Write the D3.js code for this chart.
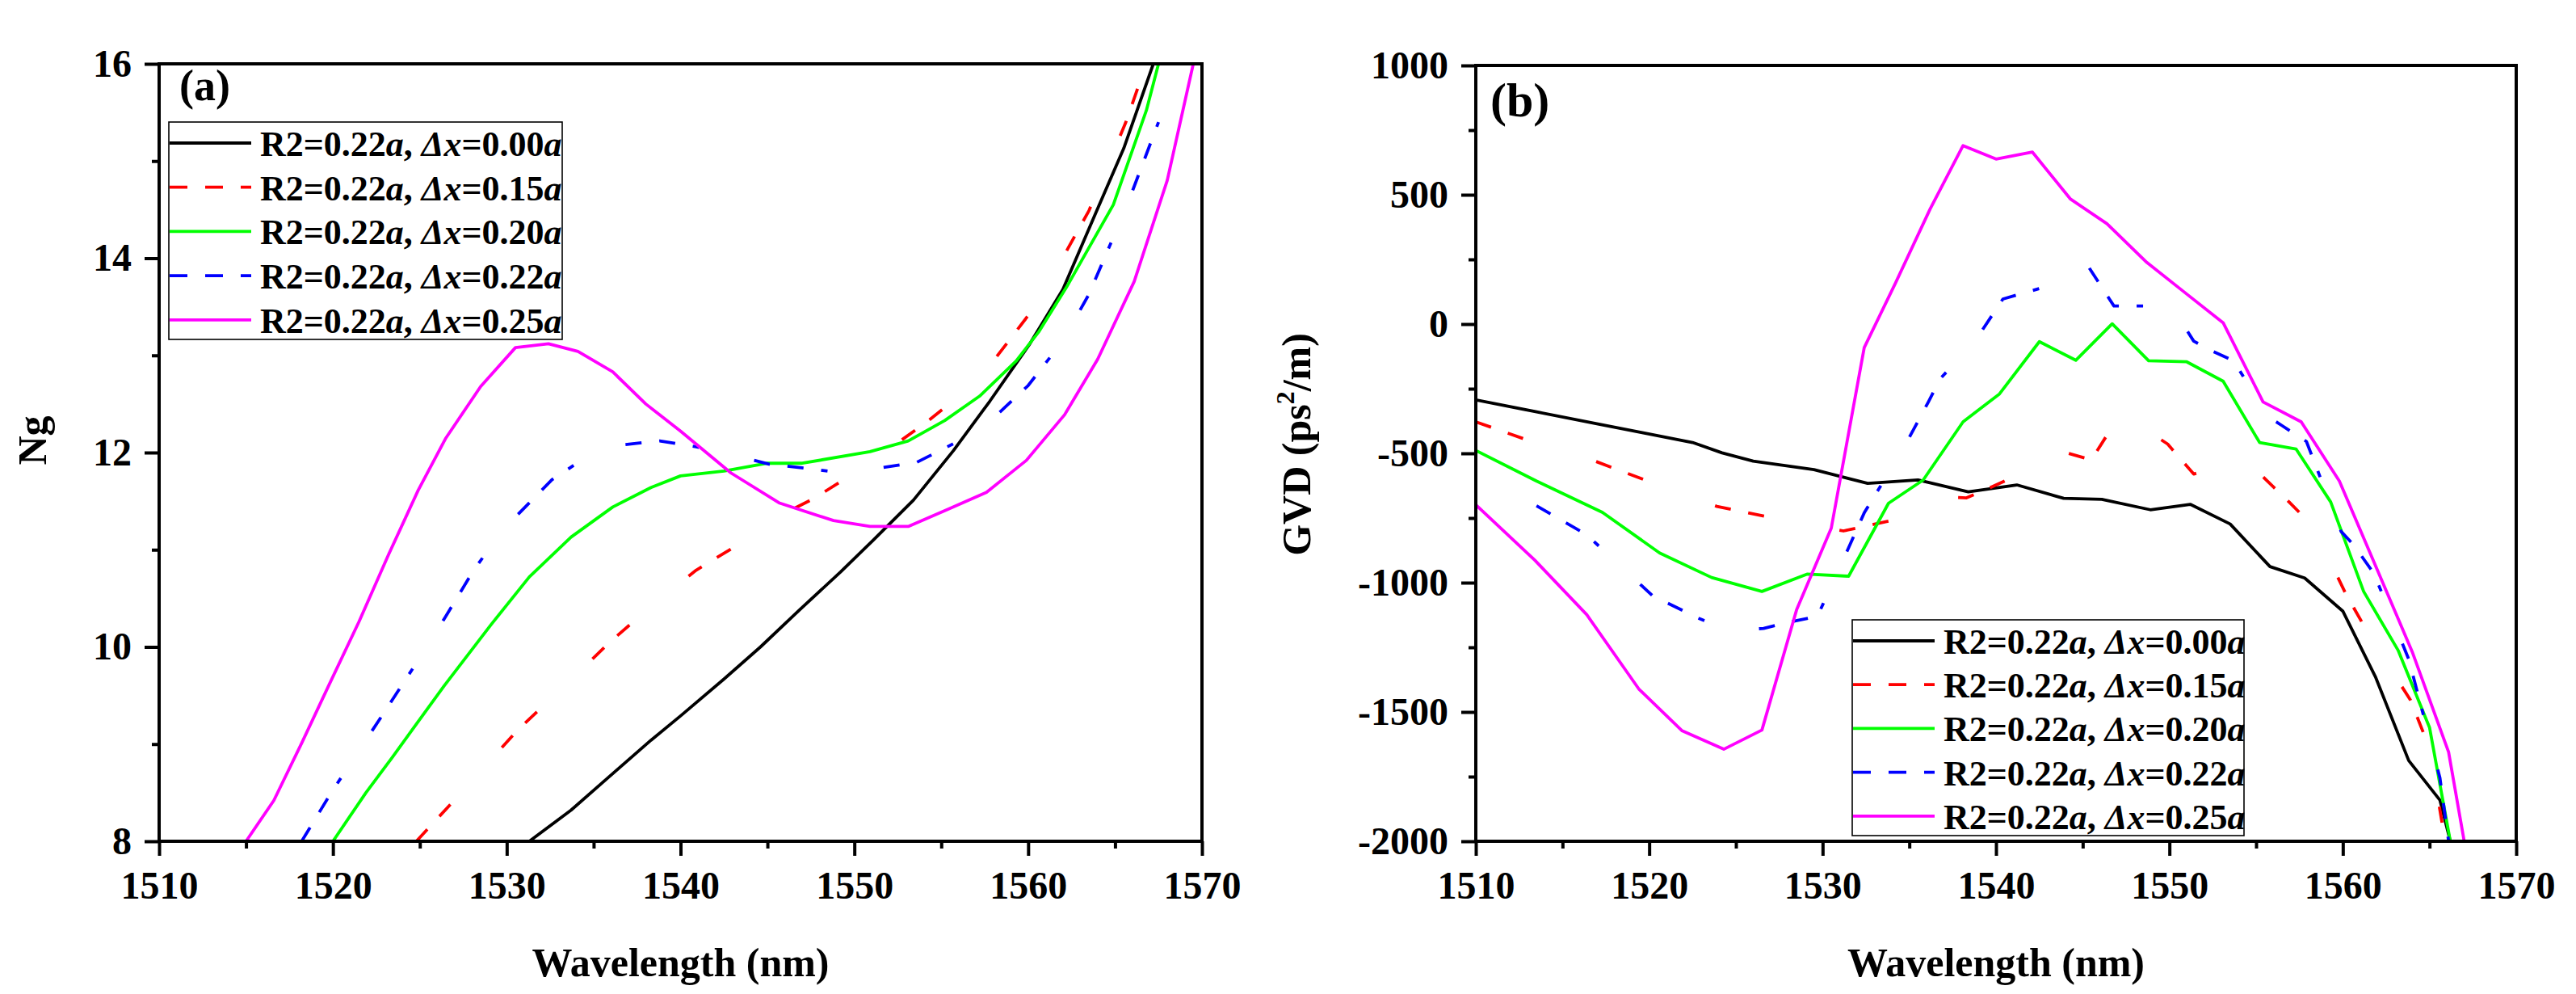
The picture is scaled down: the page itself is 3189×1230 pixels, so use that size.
<!DOCTYPE html>
<html>
<head>
<meta charset="utf-8">
<script src="https://cdn.jsdelivr.net/npm/d3@7"></script>
<style>
  html, body { margin: 0; padding: 0; background: #fff; }
  svg text { font-family: "Liberation Serif", "Times New Roman", serif; font-weight: bold; white-space: pre; }
</style>
</head>
<body>
<div id="chart"></div>
<script>
// ---- data ----
const legendLabels = ["0.00", "0.15", "0.20", "0.22", "0.25"];
const seriesColors = ["#000000", "#ff0000", "#00ff00", "#0000ff", "#ff00ff"];

const xTicks = [1510, 1520, 1530, 1540, 1550, 1560, 1570];
const ngTicks = [8, 10, 12, 14, 16];
const gvdTicks = [-2000, -1500, -1000, -500, 0, 500, 1000];

// (a) group index Ng, [wavelength nm, Ng]
const ng000 = [[1531.3,8.0],[1533.7,8.32],[1535.8,8.65],[1538.3,9.04],[1540.0,9.29],[1542.5,9.67],[1544.6,10.0],[1546.9,10.39],[1549.2,10.77],[1551.1,11.10],[1553.4,11.51],[1555.7,12.02],[1557.8,12.53],[1560.1,13.12],[1562.0,13.68],[1563.9,14.47],[1565.5,15.13],[1567.2,16.0]];
const ng015 = [[1524.8,8.0],[1527.9,8.60],[1530.6,9.14],[1532.8,9.51],[1536.0,10.06],[1538.2,10.40],[1540.9,10.79],[1543.3,11.05],[1545.5,11.33],[1547.7,11.53],[1549.9,11.78],[1552.1,12.05],[1554.2,12.32],[1556.3,12.62],[1558.2,12.99],[1560.0,13.41],[1562.1,14.04],[1563.5,14.49],[1565.6,15.39],[1566.6,15.90],[1566.8,16.0]];
const ng020 = [[1520.0,8.0],[1521.9,8.50],[1523.4,8.86],[1526.4,9.60],[1529.1,10.23],[1531.3,10.72],[1533.7,11.13],[1536.1,11.44],[1538.3,11.64],[1540.0,11.76],[1542.5,11.81],[1545.0,11.89],[1547.0,11.89],[1550.9,12.01],[1553.1,12.12],[1555.2,12.33],[1557.2,12.58],[1559.3,12.94],[1560.6,13.24],[1562.2,13.70],[1564.9,14.55],[1566.8,15.52],[1567.5,16.0]];
const ng022 = [[1518.2,8.0],[1519.9,8.50],[1523.0,9.34],[1525.8,10.11],[1528.1,10.79],[1529.8,11.21],[1532.6,11.72],[1534.8,11.98],[1536.7,12.08],[1538.8,12.12],[1540.9,12.06],[1542.9,11.98],[1545.1,11.88],[1547.1,11.84],[1549.3,11.79],[1551.4,11.84],[1553.6,11.90],[1555.8,12.10],[1557.8,12.32],[1560.0,12.69],[1562.0,13.15],[1563.5,13.63],[1565.7,14.55],[1567.5,15.40]];
const ng025 = [[1515.0,8.0],[1516.6,8.42],[1518.2,9.01],[1519.75,9.60],[1521.5,10.26],[1523.2,10.95],[1524.9,11.61],[1526.5,12.15],[1528.5,12.68],[1530.5,13.08],[1532.4,13.12],[1534.1,13.04],[1536.1,12.83],[1538.0,12.50],[1540.0,12.22],[1542.9,11.79],[1545.7,11.48],[1548.8,11.30],[1550.9,11.24],[1553.1,11.24],[1555.3,11.41],[1557.6,11.59],[1559.9,11.92],[1562.1,12.39],[1564.0,12.96],[1566.1,13.76],[1568.0,14.80],[1569.5,16.0]];

// (b) GVD in ps^2/m, [wavelength nm, GVD]
const gvd000 = [[1510.0,-293],[1513.45,-339],[1517.1,-387],[1519.6,-420],[1522.5,-458],[1524.2,-498],[1526.0,-530],[1529.5,-563],[1532.6,-616],[1535.5,-603],[1538.4,-649],[1541.2,-622],[1543.9,-674],[1546.1,-678],[1548.9,-718],[1551.2,-697],[1553.5,-773],[1555.8,-938],[1557.8,-982],[1560.0,-1110],[1561.9,-1367],[1563.8,-1688],[1565.6,-1841],[1566.2,-2000]];
const gvd015 = [[1510.0,-378],[1514.6,-487],[1516.6,-523],[1521.9,-657],[1523.9,-705],[1528.3,-766],[1531.2,-800],[1533.8,-762],[1536.2,-665],[1538.3,-672],[1539.3,-644],[1541.2,-585],[1543.0,-478],[1545.5,-525],[1547.2,-345],[1549.9,-464],[1551.4,-580],[1554.3,-520],[1556.9,-688],[1558.3,-783],[1560.2,-1047],[1561.7,-1223],[1563.9,-1454],[1565.0,-1640],[1565.9,-2000]];
const gvd020 = [[1510.0,-489],[1513.5,-607],[1517.3,-728],[1520.6,-885],[1523.6,-980],[1526.5,-1034],[1529.1,-967],[1531.5,-975],[1533.8,-693],[1535.8,-603],[1538.1,-378],[1540.2,-270],[1542.5,-68],[1544.6,-140],[1546.7,1],[1548.8,-142],[1551.0,-146],[1553.1,-221],[1555.2,-458],[1557.3,-483],[1559.3,-688],[1561.2,-1034],[1563.2,-1263],[1565.0,-1560],[1566.2,-2000]];
const gvd022 = [[1513.5,-703],[1516.4,-815],[1520.2,-1051],[1522.9,-1139],[1524.6,-1185],[1526.6,-1177],[1528.1,-1152],[1529.7,-1130],[1530.6,-999],[1531.5,-865],[1532.4,-730],[1534.6,-488],[1536.1,-301],[1536.8,-210],[1538.7,-75],[1540.4,97],[1542.9,145],[1545.3,225],[1546.8,70],[1549.3,70],[1550.3,50],[1551.4,-66],[1552.3,-99],[1553.7,-142],[1555.7,-358],[1556.5,-393],[1557.9,-454],[1559.9,-802],[1560.6,-852],[1561.8,-965],[1563.8,-1296],[1565.6,-1755],[1566.1,-2000]];
const gvd025 = [[1510.0,-699],[1513.4,-913],[1516.4,-1124],[1519.4,-1411],[1521.9,-1573],[1524.3,-1644],[1526.5,-1570],[1528.5,-1105],[1530.5,-789],[1532.4,-91],[1534.2,158],[1536.2,445],[1538.1,690],[1540.0,638],[1542.1,665],[1544.3,483],[1546.4,388],[1548.7,238],[1551.0,116],[1553.1,5],[1555.4,-301],[1557.6,-378],[1559.8,-607],[1562.0,-952],[1564.0,-1267],[1566.1,-1655],[1567.0,-2000]];

// ---- drawing ----
const W = 3189, H = 1230;
const dashes = [null, "20,22,20,95", null, "20,22,20,22,8,70", null];
const lineW = 3.8;

const svg = d3.select("#chart").append("svg")
  .attr("width", W).attr("height", H)
  .attr("viewBox", `0 0 ${W} ${H}`);
svg.append("rect").attr("width", W).attr("height", H).attr("fill", "#fff");

function drawPanel(p) {
  const x = d3.scaleLinear().domain([1510, 1570]).range([p.left, p.right]);
  const y = d3.scaleLinear().domain(p.yDomain).range([p.bottom, p.top]);
  const g = svg.append("g");

  const clipId = "clip-" + p.id;
  svg.append("clipPath").attr("id", clipId)
    .append("rect")
    .attr("x", p.left).attr("y", p.top)
    .attr("width", p.right - p.left).attr("height", p.bottom - p.top);

  // curves
  const line = d3.line().x(d => x(d[0])).y(d => y(d[1]));
  p.series.forEach((s, i) => {
    g.append("path")
      .datum(s)
      .attr("d", line)
      .attr("clip-path", `url(#${clipId})`)
      .attr("fill", "none")
      .attr("stroke", seriesColors[i])
      .attr("stroke-width", lineW)
      .attr("stroke-linejoin", "round")
      .attr("stroke-dasharray", dashes[i]);
  });

  // minor ticks
  const xMinor = d3.range(1515, 1570, 10);
  g.append("g")
    .attr("transform", `translate(0,${p.bottom})`)
    .call(d3.axisBottom(x).tickValues(xMinor).tickSize(9).tickFormat(""));
  g.append("g")
    .attr("transform", `translate(${p.left},0)`)
    .call(d3.axisLeft(y).tickValues(p.yMinor).tickSize(9).tickFormat(""));

  // major ticks + labels
  g.append("g")
    .attr("class", "xaxis")
    .attr("transform", `translate(0,${p.bottom})`)
    .call(d3.axisBottom(x).tickValues(xTicks).tickSize(18).tickPadding(19).tickFormat(d => String(d)));
  g.append("g")
    .attr("class", "yaxis")
    .attr("transform", `translate(${p.left},0)`)
    .call(d3.axisLeft(y).tickValues(p.yTicks).tickSize(18).tickPadding(16).tickFormat(d => String(d)));

  g.selectAll(".domain").remove();
  g.selectAll(".tick line").attr("stroke", "#000").attr("stroke-width", 4);
  g.selectAll(".tick text")
    .attr("fill", "#000")
    .style("font-size", "48px")
    .style("font-family", "'Liberation Serif', 'Times New Roman', serif")
    .style("font-weight", "bold");

  // frame
  g.append("rect")
    .attr("x", p.left).attr("y", p.top)
    .attr("width", p.right - p.left).attr("height", p.bottom - p.top)
    .attr("fill", "none").attr("stroke", "#000").attr("stroke-width", 4);

  // panel tag
  g.append("text")
    .attr("x", p.tag.x).attr("y", p.tag.y)
    .style("font-size", p.tag.size + "px")
    .text(p.tag.text);

  // x title
  g.append("text")
    .attr("x", (p.left + p.right) / 2).attr("y", 1208)
    .attr("text-anchor", "middle")
    .style("font-size", "50px")
    .text("Wavelength (nm)");

  // y title
  const yt = g.append("text")
    .attr("transform", `translate(${p.yTitleX},${p.yTitleY}) rotate(-90)`)
    .attr("text-anchor", "middle")
    .style("font-size", "50px");
  p.yTitle(yt);

  // legend
  const L = p.legend;
  g.append("rect")
    .attr("x", L.x).attr("y", L.y)
    .attr("width", L.w).attr("height", L.h)
    .attr("fill", "#fff").attr("stroke", "#000").attr("stroke-width", 1.6);
  legendLabels.forEach((lab, i) => {
    const cy = L.firstRow + i * L.step;
    g.append("line")
      .attr("x1", L.x + 1).attr("x2", L.x + 102)
      .attr("y1", cy).attr("y2", cy)
      .attr("stroke", seriesColors[i])
      .attr("stroke-width", lineW)
      .attr("stroke-dasharray", dashes[i] ? "22,22" : null);
    const t = g.append("text")
      .attr("x", L.x + 113).attr("y", cy + 16)
      .style("font-size", "44px");
    t.append("tspan").text("R2=0.22");
    t.append("tspan").style("font-style", "italic").text("a");
    t.append("tspan").text(", ");
    t.append("tspan").style("font-style", "italic").text("\u0394x");
    t.append("tspan").text("=" + lab);
    t.append("tspan").style("font-style", "italic").text("a");
  });
}

drawPanel({
  id: "a",
  left: 197, right: 1488, top: 79, bottom: 1041,
  yDomain: [8, 16],
  yTicks: ngTicks,
  yMinor: [9, 11, 13, 15],
  series: [ng000, ng015, ng020, ng022, ng025],
  tag: { text: "(a)", x: 222, y: 124, size: 54 },
  yTitleX: 57, yTitleY: 545,
  yTitle: t => t.text("Ng"),
  legend: { x: 209, y: 151, w: 487, h: 269, firstRow: 177, step: 54.7 }
});

drawPanel({
  id: "b",
  left: 1827, right: 3115, top: 81, bottom: 1041,
  yDomain: [-2000, 1000],
  yTicks: gvdTicks,
  yMinor: [-1750, -1250, -750, -250, 250, 750],
  series: [gvd000, gvd015, gvd020, gvd022, gvd025],
  tag: { text: "(b)", x: 1845, y: 144, size: 60 },
  yTitleX: 1622, yTitleY: 550,
  yTitle: t => {
    t.append("tspan").text("GVD (ps");
    t.append("tspan").attr("dy", -20).style("font-size", "32px").text("2");
    t.append("tspan").attr("dy", 20).text("/m)");
  },
  legend: { x: 2293, y: 767, w: 485, h: 267, firstRow: 793, step: 54.2 }
});
</script>
</body>
</html>
